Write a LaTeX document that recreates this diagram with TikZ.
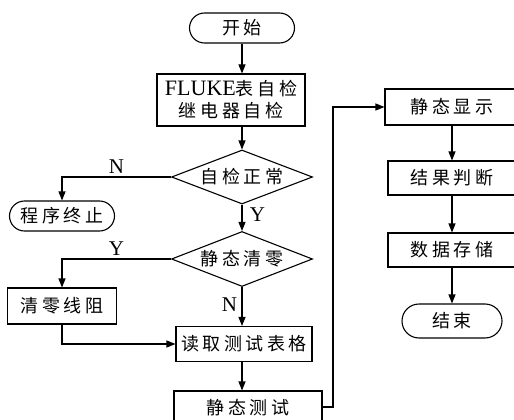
\documentclass[tikz,border=0pt]{standalone}
\usepackage{fontspec}
\setmainfont{Liberation Serif}
\newfontfamily\cjk{Noto Sans CJK SC}[LetterSpace=20]
\usetikzlibrary{shapes.geometric,arrows.meta}

\begin{document}
\begin{tikzpicture}[x=1pt,y=-1pt,line width=1.1pt,line join=miter,>={Triangle[length=9pt,width=7pt]},
	box/.style={draw,rectangle,inner sep=0pt,align=center,font=\fontsize{18}{22}\cjk},
	term/.style={box,rounded corners=15pt},
	decide/.style={draw,diamond,aspect=2.6,inner sep=0pt,font=\fontsize{18}{22}\cjk},
	yn/.style={font=\fontsize{21}{22}\selectfont}]
	\useasboundingbox (0,0) rectangle (514,420);
	\clip (0,0) rectangle (514,420);
	% left column
	\node[term,minimum width=105pt,minimum height=30pt] (start) at (242,28) {开始};
	\node[box,minimum width=148pt,minimum height=52pt] (selftest) at (231,100) {{\fontsize{22}{22}\rmfamily FLUKE}表自检\\继电器自检};
	\node[decide,minimum width=141pt,minimum height=54pt] (chk) at (242,177) {自检正常};
	\node[term,minimum width=105pt,minimum height=30pt] (abort) at (62,216) {程序终止};
	\node[decide,minimum width=141pt,minimum height=55pt] (zero) at (242,259) {静态清零};
	\node[box,minimum width=109pt,minimum height=36pt] (clrline) at (62,306) {清零线阻};
	\node[box,minimum width=136pt,minimum height=35pt] (read) at (244,344) {读取测试表格};
	\node[box,minimum width=148pt,minimum height=34pt] (stest) at (248,408) {静态测试};
	% right column
	\node[box,minimum width=134pt,minimum height=36pt] (show) at (452,107) {静态显示};
	\node[box,minimum width=128pt,minimum height=34pt] (judge) at (452,178) {结果判断};
	\node[box,minimum width=128pt,minimum height=34pt] (store) at (452,250) {数据存储};
	\node[term,minimum width=100pt,minimum height=34pt,rounded corners=17pt] (finish) at (452,321) {结束};
	% connectors
	\draw[->] (start) -- (start|-selftest.north);
	\draw[->] (start|-selftest.south) -- (chk);
	\draw[->] (chk.west) -| (abort) node[yn,pos=0.25,above] {N};
	\draw[->] (chk.south) -- (zero.north) node[yn,pos=0.4,right=4pt] {Y};
	\draw[->] (zero.west) -| (clrline) node[yn,pos=0.25,above] {Y};
	\draw[->] (zero.south) -- (zero.south|-read.north) node[yn,pos=0.45,left=1pt] {N};
	\draw[->] (clrline.south) |- (read.west);
	\draw[->] (zero.south|-read.south) -- (zero.south|-stest.north);
	\draw[->] (stest.east|-0,407) -- (333,407) |- (show.west);
	\draw[->] (show) -- (judge);
	\draw[->] (judge) -- (store);
	\draw[->] (store) -- (finish);
\end{tikzpicture}
\end{document}
